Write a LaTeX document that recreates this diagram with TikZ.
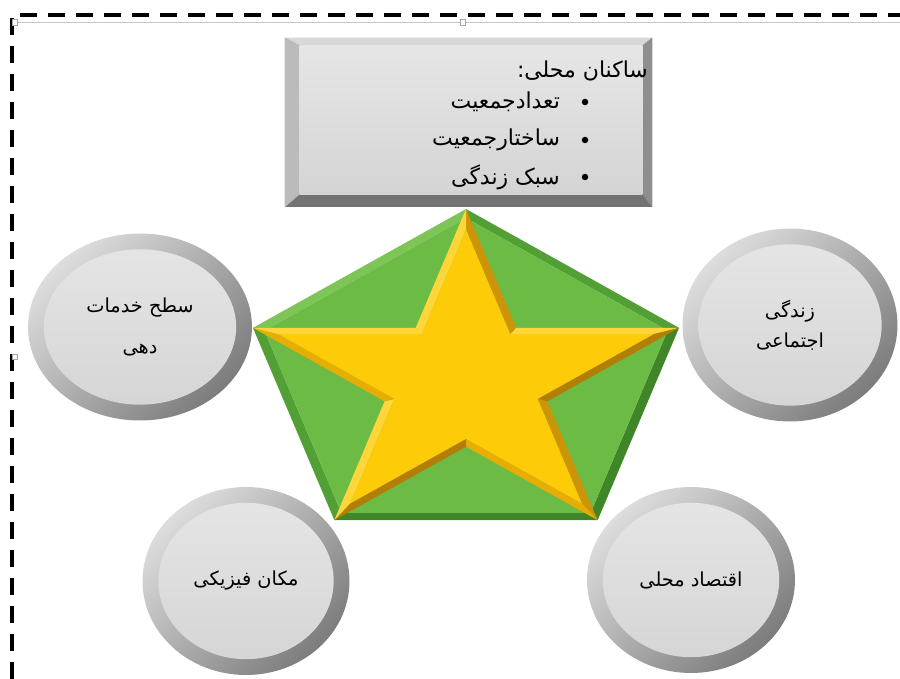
\documentclass[tikz,border=0pt]{standalone}
\usepackage{fontspec}
\newfontfamily\arabicfont[Script=Arabic]{DejaVu Sans}
\TeXXeTstate=1
\usetikzlibrary{shapes.geometric,calc}
\definecolor{ringlight}{HTML}{DDDDDD}
\definecolor{ringdark}{HTML}{7C7C7C}
\definecolor{facetop}{HTML}{E6E6E6}
\definecolor{facebot}{HTML}{D4D4D4}
\definecolor{ptop}{HTML}{D8D8D8}
\definecolor{pleft}{HTML}{BBBBBB}
\definecolor{pright}{HTML}{8E8E8E}
\definecolor{pbottom}{HTML}{737373}
\definecolor{glight}{HTML}{7CC556}
\definecolor{gmid}{HTML}{52A035}
\definecolor{gdark}{HTML}{3E8627}
\definecolor{gface}{HTML}{6BBB45}
\definecolor{gold1}{HTML}{FFD63A}
\definecolor{gold2}{HTML}{E6AE02}
\definecolor{gold3}{HTML}{CC9406}
\definecolor{gold4}{HTML}{B27E05}
\definecolor{starface}{HTML}{FDCB08}
\tikzset{
 fa/.style={font=\arabicfont\fontsize{11}{13}\selectfont,inner sep=1pt},
 fabig/.style={font=\arabicfont\fontsize{12.5}{15}\selectfont,inner sep=1pt},
 bubble/.style={ellipse,fa,align=center,top color=ringlight,bottom color=ringdark,shading angle=45,
  path picture={\shade[top color=facetop,bottom color=facebot] let \p1=($(path picture bounding box.north east)-(path picture bounding box.south west)$) in (path picture bounding box.center) ellipse [x radius=0.5*\x1-9pt,y radius=0.5*\y1-9pt];}},
 panel/.style={rectangle,minimum width=7.34cm,minimum height=3.38cm,fill=pbottom,inner sep=0pt},
 dot/.style={circle,fill=black,inner sep=0pt,minimum size=0.13cm},
 handle/.style={rectangle,draw=gray!70,fill=white,line width=0.4pt,minimum size=0.11cm,inner sep=0pt}
}
\begin{document}
\begin{tikzpicture}[x=0.02cm,y=-0.02cm]
 \useasboundingbox (0,0) rectangle (900,679); %全体の大きさ
 \draw[line width=0.065cm,dash pattern=on 0.34cm off 0.22cm] (12,679)--(12,15)--(900,15); %点線の枠
 \draw[gray!45,line width=0.035cm] (15,22.5)--(900,22.5); %灰色の線
 \foreach \p [count=\k] in {(15,22.5),(463,22.5),(15,357)} \node[handle] (h\k) at \p {}; %つまみ
 \node[panel] (res) at (468.5,122.5) {}; %上の箱
 \fill[ptop] (res.north west)--(res.north east)--([shift={(-10,8)}]res.north east)--([shift={(15,8)}]res.north west)--cycle; %上の面
 \fill[pleft] (res.north west)--([shift={(15,8)}]res.north west)--([shift={(15,-13)}]res.south west)--(res.south west)--cycle; %左の面
 \fill[pright] (res.north east)--([shift={(-10,8)}]res.north east)--([shift={(-10,-13)}]res.south east)--(res.south east)--cycle; %右の面
 \shade[top color=facetop,bottom color=facebot] ([shift={(15,8)}]res.north west) rectangle ([shift={(-10,-13)}]res.south east); %正面
 \node[fabig,anchor=east] (title) at (650,71) {\beginR ساکنان محلی:\endR}; %見出し
 \foreach \y/\t [count=\k] in {102/تعدادجمعیت,140/ساختارجمعیت,177/سبک زندگی}{
  \node[fabig,anchor=east] (item\k) at (562,\y) {\beginR\t\endR}; %項目
  \node[dot] (dot\k) at (585,\y) {}; %黒丸
 }
 \begin{scope}[shift={(466,381)}]
  \foreach \i in {0,...,9}{
   \pgfmathsetmacro\r{ifthenelse(mod(\i,2)==0,1,0.382)}
   \coordinate (s\i) at ({270+36*\i}:{224*\r} and {172*\r}); %星の外側
   \coordinate (t\i) at ({270+36*\i}:{0.88*224*\r} and {0.88*172*\r}); %星の内側
  }
  \foreach \a/\b/\c in {270/342/gmid,342/54/gdark,54/126/gdark,126/198/gmid,198/270/glight}
   \fill[\c] (\a:224 and 172)--(\b:224 and 172)--(\b:212 and 163)--(\a:212 and 163)--cycle; %五角形のふち
  \fill[gface] (270:212 and 163)--(342:212 and 163)--(54:212 and 163)--(126:212 and 163)--(198:212 and 163)--cycle; %五角形
  \foreach \i/\j/\c in {0/1/gold3,1/2/gold1,2/3/gold4,3/4/gold3,4/5/gold2,5/6/gold4,6/7/gold1,7/8/gold2,8/9/gold1,9/0/gold1}
   \fill[\c] (s\i)--(s\j)--(t\j)--(t\i)--cycle; %星のふち
  \fill[starface] (t0) \foreach \i in {1,...,9}{--(t\i)}--cycle; %星
 \end{scope}
 \node[bubble,minimum width=4.48cm,minimum height=3.74cm] (svc) at (140,327) {\beginR سطح خدمات\endR\\[10pt]\beginR دهی\endR}; %左の円
 \node[bubble,minimum width=4.3cm,minimum height=3.86cm] (soc) at (790,325) {\beginR زندگی\endR\\[4pt]\beginR اجتماعی\endR}; %右の円
 \node[bubble,minimum width=4.14cm,minimum height=3.76cm] (phys) at (246,581) {\beginR مکان فیزیکی\endR}; %左下の円
 \node[bubble,minimum width=4.16cm,minimum height=3.72cm] (econ) at (691,580) {\beginR اقتصاد محلی\endR}; %右下の円
\end{tikzpicture}
\end{document}
